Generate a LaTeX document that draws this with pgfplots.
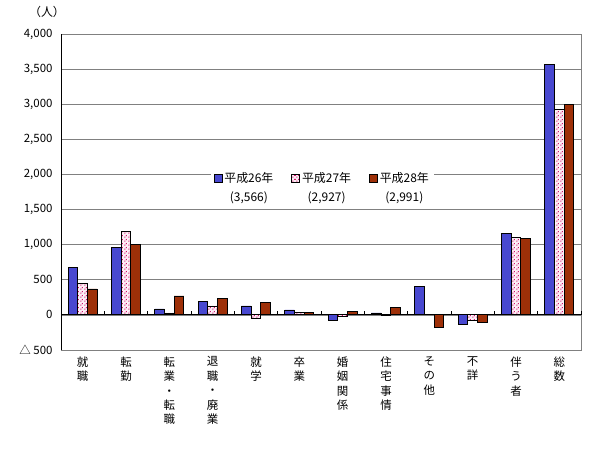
\documentclass[border=0pt]{standalone}
\usepackage{pgfplots}
\pgfplotsset{compat=1.18}
\usepackage{fontspec}
\setmainfont{Noto Sans CJK JP}
\usetikzlibrary{patterns}

\definecolor{cblue}{RGB}{72,72,208}
\definecolor{cpink}{RGB}{210,20,110}
\definecolor{cpinkbg}{RGB}{252,236,244}
\definecolor{cred}{RGB}{158,48,8}
\definecolor{cgrid}{RGB}{128,128,128}

\pgfdeclarepatterninherentlycolored{pinkdots}{\pgfpointorigin}{\pgfpoint{4bp}{4bp}}{\pgfpoint{4bp}{4bp}}{%
 \pgfsetfillcolor{cpink}%
 \pgfpathrectangle{\pgfpoint{0.4bp}{0.4bp}}{\pgfpoint{1.2bp}{1.2bp}}%
 \pgfpathrectangle{\pgfpoint{2.4bp}{2.4bp}}{\pgfpoint{1.2bp}{1.2bp}}%
 \pgfusepath{fill}}

\pgfplotstableread{
x h26 h27 h28
0 670 455 370
1 955 1190 1005
2 85 28 270
3 185 128 228
4 128 -57 171
5 71 40 40
6 -85 -25 43
7 28 -10 100
8 399 3 -185
9 -142 -85 -100
10 1157 1105 1090
11 3566 2927 2991
}\datatable

\begin{document}
\begin{tikzpicture}
\useasboundingbox (-61bp,-100bp) rectangle (539bp,350bp);
\begin{axis}[
 name=ax,
 at={(0,0)}, anchor=south west,
 scale only axis, width=520bp, height=316bp,
 xmin=-0.5, xmax=11.5, ymin=-500, ymax=4000,
 clip=false,
 ybar=0pt, bar width=9.7bp,
 xtick={0,...,11},
 xticklabels={{就\\職},{転\\勤},{転\\業\\・\\転\\職},{退\\職\\・\\廃\\業},{就\\学},{卒\\業},{婚\\姻\\関\\係},{住\\宅\\事\\情},{そ\\の\\他},{不\\詳},{伴\\う\\者},{総\\数}},
 ytick={-500,0,500,1000,1500,2000,2500,3000,3500,4000},
 yticklabels={△ 500,0,500,{1,000},{1,500},{2,000},{2,500},{3,000},{3,500},{4,000}},
 major tick length=0pt,
 ymajorgrids, grid style={cgrid, line width=0.7bp},
 axis line style={cgrid, line width=0.7bp},
 tick label style={font=\fontsize{11.5}{14.5}\selectfont},
 xticklabel style={align=center, anchor=north, yshift=-3bp},
 yticklabel style={xshift=-5bp},
 legend columns=3,
 legend style={at={(axis cs:5.53,1812)}, anchor=center, draw=none, fill=white,
   font=\fontsize{12}{19}\selectfont, cells={align=center, inner sep=1bp},
   /tikz/every even column/.append style={column sep=16bp}},
 legend image code/.code={\draw[#1, line width=0.6bp] (0bp,5bp) rectangle (8bp,13bp);},
]
\addplot[draw=black, line width=0.8bp, fill=cblue] table[x=x, y=h26] {\datatable};
\addplot[draw=black, line width=0.8bp, fill=cpinkbg, postaction={pattern=pinkdots}] table[x=x, y=h27] {\datatable};
\addplot[draw=black, line width=0.8bp, fill=cred] table[x=x, y=h28] {\datatable};
\legend{{平成26年\\(3,566)},{平成27年\\(2,927)},{平成28年\\(2,991)}}
\addplot[sharp plot, black, line width=0.8bp, forget plot, mark=none] coordinates {(-0.5,0) (11.5,0)};
\addplot[ycomb, black, line width=0.8bp, forget plot, mark=none] coordinates {(0.5,57)(1.5,57)(2.5,57)(3.5,57)(4.5,57)(5.5,57)(6.5,57)(7.5,57)(8.5,57)(9.5,57)(10.5,57)(11.5,57)};
\draw[black, line width=0.8bp] (rel axis cs:0,0) -- (rel axis cs:0,1);
\end{axis}
\node[font=\fontsize{12}{14}\selectfont] at ([xshift=-14bp,yshift=22bp]ax.north west) {（人）};
\end{tikzpicture}
\end{document}
